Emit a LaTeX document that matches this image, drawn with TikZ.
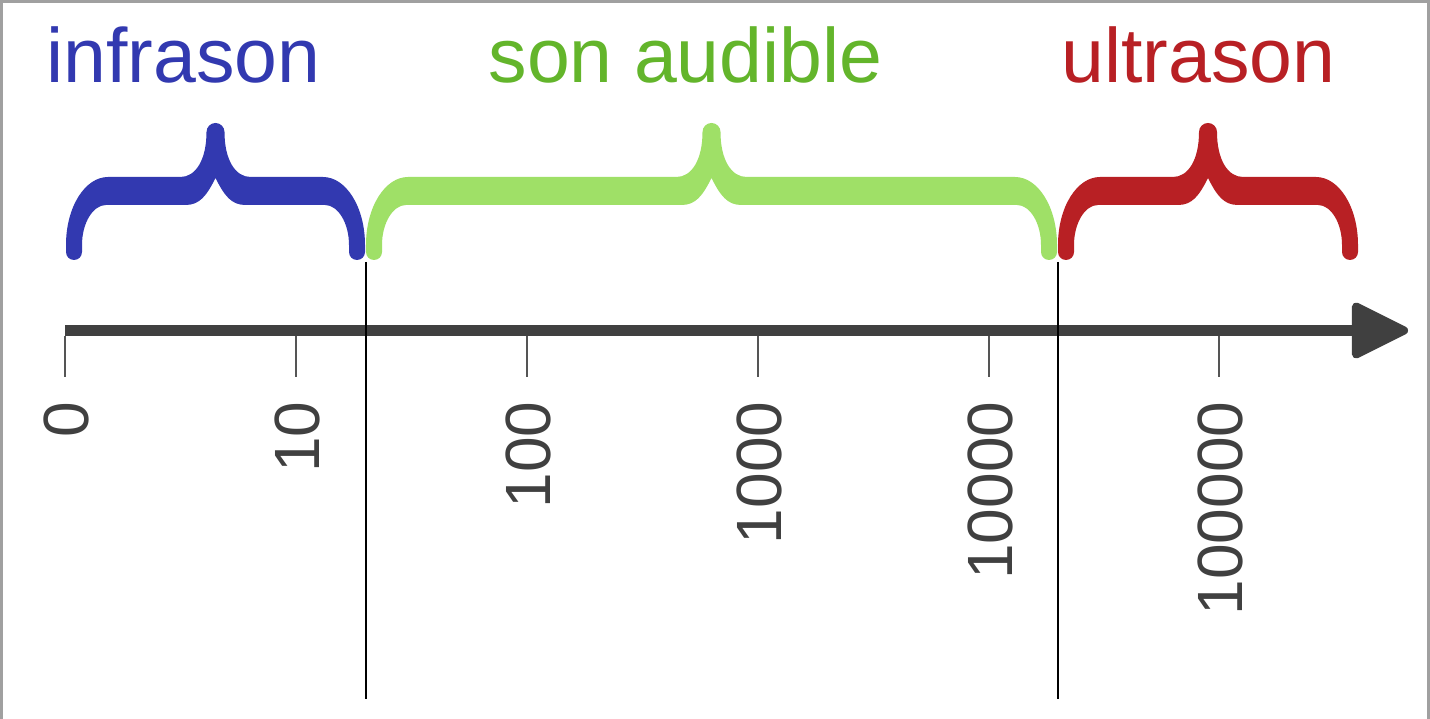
\documentclass[tikz,border=0pt]{standalone}
\usepackage{fontspec}
\setmainfont{Liberation Sans}
\definecolor{cblue}{HTML}{3239B0}
\definecolor{cgreentext}{HTML}{63B52B}
\definecolor{cgreen}{HTML}{9FE067}
\definecolor{cred}{HTML}{B82024}
\definecolor{axisgray}{HTML}{404040}
\definecolor{tickgray}{HTML}{555555}
\definecolor{framegray}{HTML}{A0A0A0}
\newcommand\drawbrace[3]{%
 \pgfmathsetmacro\bl{#1}\pgfmathsetmacro\br{#2}\pgfmathsetmacro\bm{(#1+#2)/2}%
 \fill[#3] (\bl-8,252) -- (\bl-8,245) .. controls (\bl-8,207) and (\bl+11,177) .. (\bl+34,177)
  -- (\bm-35,177) .. controls (\bm-20,177) and (\bm-9,160) .. (\bm-9,132)
  arc[start angle=180,end angle=360,radius=9]
  .. controls (\bm+9,160) and (\bm+20,177) .. (\bm+35,177)
  -- (\br-34,177) .. controls (\br-11,177) and (\br+8,207) .. (\br+8,245)
  -- (\br+8,252) arc[start angle=0,end angle=180,radius=8]
  -- (\br-8,245) .. controls (\br-8,223) and (\br-19,205) .. (\br-32,205)
  -- (\bm+30,205) .. controls (\bm+16,205) and (\bm+9,196) .. (\bm,178)
  .. controls (\bm-9,196) and (\bm-16,205) .. (\bm-30,205)
  -- (\bl+32,205) .. controls (\bl+19,205) and (\bl+8,223) .. (\bl+8,245)
  -- (\bl+8,252) arc[start angle=0,end angle=180,radius=8] -- cycle;}
\begin{document}
\begin{tikzpicture}[x=0.01cm,y=-0.01cm,
  title/.style={font=\fontsize{21.9pt}{24pt}\selectfont, inner sep=0, anchor=base},
  ticklabel/.style={font=\fontsize{18.2pt}{20pt}\selectfont, text=axisgray, rotate=90, inner sep=0, anchor=base east},
  tickmark/.style={draw=tickgray, line width=0.55pt},
  axisline/.style={draw=axisgray, line width=3.13pt},
  divider/.style={draw=black, line width=0.7pt}]
\useasboundingbox (0,0) rectangle (1430,719);
\fill[white] (0,0) rectangle (1430,719);
\draw[framegray, line width=0.6pt] (1.5,719) -- (1.5,1.5) -- (1428.5,1.5) -- (1428.5,719);
% titles
\node[title, text=cblue] (tinfra) at (183.5,83) {infrason};
\node[title, text=cgreentext] (taud) at (685.5,83) {son audible};
\node[title, text=cred] (tultra) at (1198.5,83) {ultrason};
% braces
\drawbrace{74}{357}{cblue}
\drawbrace{374}{1049}{cgreen}
\drawbrace{1066}{1350}{cred}
% dividers
\coordinate (d1t) at (366,262); \coordinate (d1b) at (366,699);
\coordinate (d2t) at (1058,262); \coordinate (d2b) at (1058,699);
% axis
\coordinate (a0) at (65,330.5);
\coordinate (a1) at (1356,330.5);
\draw[axisline] (a0) -- (a1);
\filldraw[fill=axisgray, draw=axisgray, line width=2.3pt, line join=round] (1356,306.5) -- (1404,330.5) -- (1356,354.5) -- cycle;
\draw[divider] (d1t) -- (d1b);
\draw[divider] (d2t) -- (d2b);
% ticks
\foreach \x/\lab [count=\i] in {65/0,296/10,527/100,758/1000,989/10000,1219/100000}{
  \coordinate (ts\i) at (\x,336); \coordinate (te\i) at (\x,377);
  \draw[tickmark] (ts\i) -- (te\i);
  \node[ticklabel] (tl\i) at (\x+23.5,401) {\lab};
}
\end{tikzpicture}
\end{document}
